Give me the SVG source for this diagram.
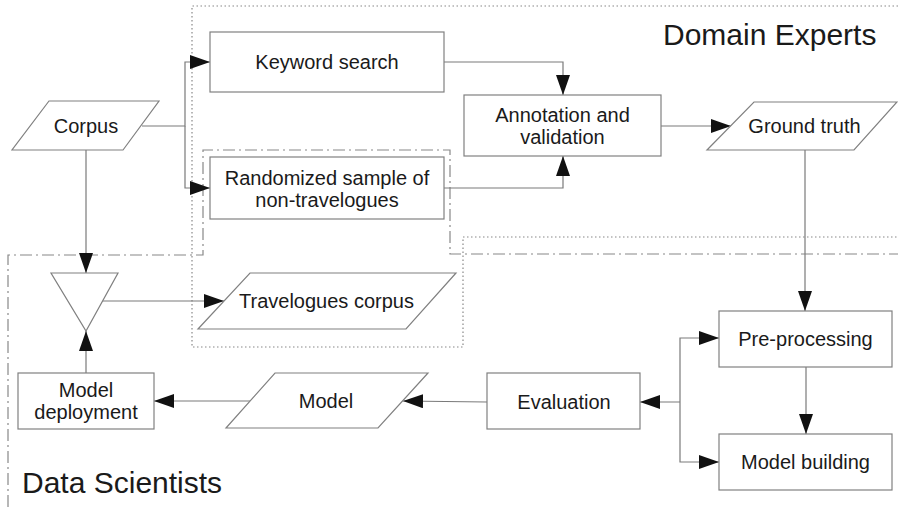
<svg xmlns="http://www.w3.org/2000/svg" width="898" height="507" viewBox="0 0 898 507">
  <defs>
    <marker id="arrow" markerUnits="userSpaceOnUse" markerWidth="20" markerHeight="14" refX="20" refY="7" orient="auto">
      <path d="M0,0 L20,7 L0,14 z" fill="#111"/>
    </marker>
    <style>
      .box { fill: #ffffff; stroke: #808080; stroke-width: 1.2; }
      .lbl { font-family: "Liberation Sans", Arial, sans-serif; font-size: 20px; fill: #1a1a1a; text-anchor: middle; }
      .title { font-family: "Liberation Sans", Arial, sans-serif; font-size: 30px; fill: #1a1a1a; }
      .conn { fill: none; stroke: #7a7a7a; stroke-width: 1.2; }
      .conn .arr { marker-end: url(#arrow); }
      .region-dot { fill: none; stroke: #888; stroke-width: 1.2; stroke-dasharray: 1.5 2.5; }
      .region-dashdot { fill: none; stroke: #888; stroke-width: 1.2; stroke-dasharray: 12 4 2 4; }
    </style>
  </defs>

  <rect width="898" height="507" fill="#ffffff"/>

  <!-- swimlane regions -->
  <g id="region-domain-experts">
    <path class="region-dot" d="M898,6 H192 V347 H463 V237 H898"/>
    <text class="title" x="663" y="45">Domain Experts</text>
  </g>
  <g id="region-data-scientists">
    <path class="region-dashdot" d="M8,507 V255 H203 V150 H450 V254 H898"/>
    <text class="title" x="22" y="493">Data Scientists</text>
  </g>

  <!-- connectors -->
  <g id="connectors" class="conn">
    <path class="arr" d="M142,126 H185 V62 H210"/>
    <path class="arr" d="M185,126 V188 H210"/>
    <path class="arr" d="M444,62 H563 V95"/>
    <path class="arr" d="M444,188 H563 V156"/>
    <path class="arr" d="M661,126 H731"/>
    <path class="arr" d="M86,150 V273"/>
    <path class="arr" d="M102,301 H224"/>
    <path class="arr" d="M805,150 V311"/>
    <path class="arr" d="M806,367 V434"/>
    <path class="arr" d="M680,402 V338 H719"/>
    <path class="arr" d="M680,402 V462 H719"/>
    <path class="arr" d="M680,402 H640"/>
    <path class="arr" d="M487,402 L403,401"/>
    <path class="arr" d="M250,401 H154"/>
    <path class="arr" d="M86,373 V331"/>
  </g>

  <!-- nodes -->
  <g id="corpus">
    <polygon class="box" points="49,101 159,101 123,150 12,150"/>
    <text class="lbl" x="86" y="133">Corpus</text>
  </g>
  <g id="keyword-search">
    <rect class="box" x="210" y="32" width="234" height="60"/>
    <text class="lbl" x="327" y="69">Keyword search</text>
  </g>
  <g id="randomized-sample">
    <rect class="box" x="210" y="157" width="234" height="62"/>
    <text class="lbl" x="327" y="185">Randomized sample of</text>
    <text class="lbl" x="327" y="207">non-travelogues</text>
  </g>
  <g id="annotation">
    <rect class="box" x="464" y="95" width="197" height="61"/>
    <text class="lbl" x="562.5" y="122">Annotation and</text>
    <text class="lbl" x="562.5" y="144">validation</text>
  </g>
  <g id="ground-truth">
    <polygon class="box" points="754,102 897,102 854,150 707,150"/>
    <text class="lbl" x="804.5" y="133">Ground truth</text>
  </g>
  <g id="merge">
    <polygon class="box" points="51,273 118,273 86,331"/>
  </g>
  <g id="travelogues-corpus">
    <polygon class="box" points="250,273 456,273 406,329 198,329"/>
    <text class="lbl" x="326.5" y="308">Travelogues corpus</text>
  </g>
  <g id="pre-processing">
    <rect class="box" x="719" y="311" width="173" height="56"/>
    <text class="lbl" x="805.5" y="346">Pre-processing</text>
  </g>
  <g id="model-building">
    <rect class="box" x="719" y="434" width="173" height="56"/>
    <text class="lbl" x="805.5" y="469">Model building</text>
  </g>
  <g id="evaluation">
    <rect class="box" x="487" y="373" width="153" height="56"/>
    <text class="lbl" x="564" y="409">Evaluation</text>
  </g>
  <g id="model">
    <polygon class="box" points="275,373 428,373 378,428 226,428"/>
    <text class="lbl" x="326" y="408">Model</text>
  </g>
  <g id="model-deployment">
    <rect class="box" x="18" y="373" width="136" height="56"/>
    <text class="lbl" x="86" y="397">Model</text>
    <text class="lbl" x="86" y="419">deployment</text>
  </g>
</svg>
